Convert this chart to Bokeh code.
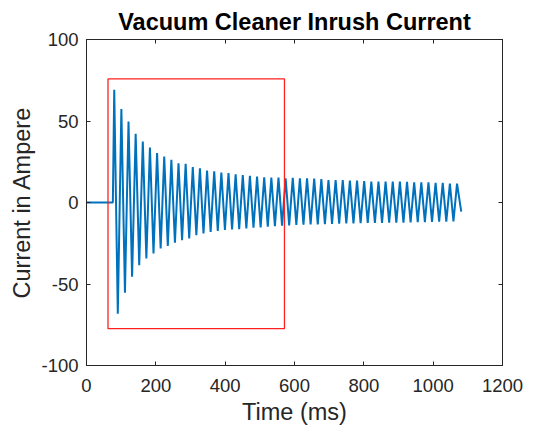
from bokeh.plotting import figure
from bokeh.models import LinearAxis, FixedTicker, Range1d, CustomLabelingPolicy
from bokeh.embed import file_html
from bokeh.resources import INLINE

# ---- data ----
x_ticks = [0, 200, 400, 600, 800, 1000, 1200]
y_ticks = [-100, -50, 0, 50, 100]
y_tick_labels = {-100: "-100", -50: "-50", 0: "0", 50: "50", 100: "100"}

flat_t = [0.0, 76.0]          # idle section before switch-on (ms)
flat_i = [0.0, 0.0]           # current (A)

first_peak_ms = 80.0          # time of first positive peak
period_ms = 20.6              # spacing of successive peaks

pos_peaks = [69.2, 57.3, 49.7, 42.2, 37.4, 33.7, 30.3, 28.2, 26.2, 24.1,
             23.7, 21.7, 21.0, 19.6, 19.2, 18.4, 18.0, 17.3, 16.9, 16.3,
             15.9, 15.5, 15.3, 15.3, 14.9, 15.2, 14.9, 14.9, 14.6, 14.3,
             13.8, 13.8, 13.8, 13.4, 13.4, 13.1, 12.8, 12.8, 12.8, 12.8,
             12.8, 12.6, 12.4, 12.4, 12.4, 12.0, 12.0, 11.6, 11.6]
neg_peaks = [-68.2, -55.3, -45.6, -38.5, -34.4, -31.3, -28.2, -26.6, -24.7, -23.1,
             -22.1, -20.0, -19.0, -18.0, -17.5, -16.9, -16.5, -16.3, -15.9, -15.5,
             -15.3, -14.9, -14.5, -14.2, -14.0, -13.8, -13.6, -13.5, -13.4, -13.3,
             -13.2, -13.0, -12.9, -12.8, -12.7, -12.6, -12.6, -12.5, -12.4, -12.3,
             -12.3, -12.2, -12.1, -12.0, -11.9, -11.8, -11.7, -11.6]
end_t = [1081.0]
end_i = [-5.6]

box_t = [62.0, 571.0]         # red highlight box, time extent
box_i = [-77.4, 75.8]         # red highlight box, current extent

# ---- build the polyline through the read peaks ----
ts = list(flat_t)
cs = list(flat_i)
for k, pk in enumerate(pos_peaks):
    ts.append(first_peak_ms + k * period_ms)
    cs.append(pk)
    if k < len(neg_peaks):
        ts.append(first_peak_ms + (k + 0.5) * period_ms)
        cs.append(neg_peaks[k])
ts += end_t
cs += end_i

AX = "#262626"
FONT = "Liberation Sans"

p = figure(width=536, height=430, output_backend="svg", toolbar_location=None,
           x_range=Range1d(0, 1200), y_range=Range1d(-100, 100),
           min_border_left=86, min_border_right=34, min_border_top=39,
           min_border_bottom=65, background_fill_color="white",
           border_fill_color="white")
p.grid.visible = False
p.outline_line_color = AX
p.outline_line_width = 1

p.title.text = "Vacuum Cleaner Inrush Current"
p.title.align = "center"
p.title.text_font = FONT
p.title.text_font_size = "23.5px"
p.title.text_font_style = "bold"
p.title.text_color = "black"
p.title.standoff = 2

bottom_ax = p.xaxis[0]
left_ax = p.yaxis[0]
bottom_ax.ticker = FixedTicker(ticks=x_ticks)
left_ax.ticker = FixedTicker(ticks=y_ticks)
left_ax.major_label_overrides = y_tick_labels
bottom_ax.axis_label = "Time (ms)"
left_ax.axis_label = "Current in Ampere"

hide_all = CustomLabelingPolicy(code="""
if (typeof indices.clear === 'function') { indices.clear() }
else { for (let i = 0; i < indices.size; i++) { indices.unset(i) } }
return indices
""")
top_ax = LinearAxis(ticker=FixedTicker(ticks=x_ticks), major_label_policy=hide_all)
right_ax = LinearAxis(ticker=FixedTicker(ticks=y_ticks), major_label_policy=hide_all)
p.add_layout(top_ax, "above")
p.add_layout(right_ax, "right")

for ax in (bottom_ax, left_ax, top_ax, right_ax):
    ax.major_tick_in = 4
    ax.major_tick_out = 0
    ax.minor_tick_line_color = None
    ax.axis_line_color = AX
    ax.major_tick_line_color = AX
    ax.major_label_text_color = AX
    ax.major_label_text_font = FONT
    ax.major_label_text_font_size = "18.5px"
    ax.axis_label_text_font = FONT
    ax.axis_label_text_font_size = "23.5px"
    ax.axis_label_text_font_style = "normal"
    ax.axis_label_text_color = AX

for ax in (top_ax, right_ax):
    ax.major_label_standoff = 0
    ax.major_label_text_font_size = "1px"

bottom_ax.major_label_standoff = 13
bottom_ax.axis_label_standoff = 4
left_ax.major_label_standoff = 8
left_ax.axis_label_standoff = 3

p.line(ts, cs, line_color="#0072BD", line_width=2.0)
p.quad(left=[box_t[0]], right=[box_t[1]], bottom=[box_i[0]], top=[box_i[1]],
       fill_alpha=0, line_color="#FF2020", line_width=1.3)

open("out.html", "w").write(file_html(p, INLINE))
